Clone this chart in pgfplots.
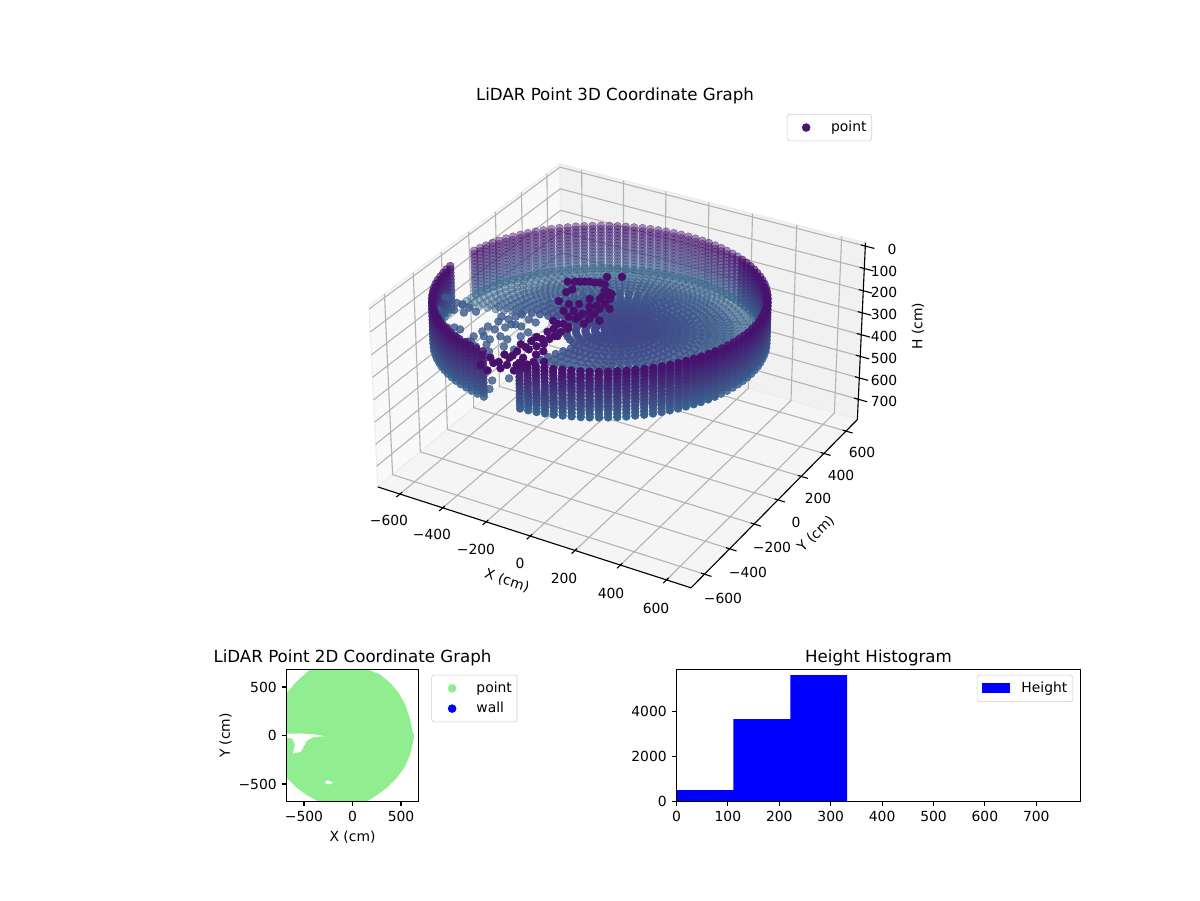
\documentclass[border=0pt]{standalone}
\usepackage{pgfplots}
\usepackage{pgfplotstable}
\usepackage{fontspec}
\setmainfont{DejaVu Sans}
\pgfplotsset{compat=1.18}
\definecolor{topc}{HTML}{47146F}
\definecolor{botc}{HTML}{39638E}
\definecolor{fout}{HTML}{3A6A8C}
\definecolor{fin}{HTML}{41438A}
\definecolor{darkp}{HTML}{490F6C}
\definecolor{midb}{HTML}{3B5A8C}
\definecolor{lgreen}{HTML}{90EE90}
\definecolor{gridc}{HTML}{B4B4B4}
\definecolor{legc}{HTML}{CCCCCC}
% perspective of the 3D panel: data in cm -> picture position
\newcommand\PX[3]{622+3000*(0.000731*(#1)+0.000422*(#2))/(10-(0.000365*(#1)-0.000633*(#2)+0.000425*(390.5-(#3))))}
\newcommand\PY[3]{535.4+3000*(-0.000211*(#1)+0.000365*(#2)+0.000736*(390.5-(#3)))/(10-(0.000365*(#1)-0.000633*(#2)+0.000425*(390.5-(#3))))}
\pgfplotsset{
 /pgfplots/table/pj/.style={x expr={\PX{\thisrow{x}}{\thisrow{y}}{\thisrow{z}}},y expr={\PY{\thisrow{x}}{\thisrow{y}}{\thisrow{z}}}},
 pts/.style={only marks,mark=*,mark size=2.8pt,forget plot},
 secA/.style={skip coords between index={0}{21},skip coords between index={58}{120}},
 secB/.style={skip coords between index={0}{9},skip coords between index={21}{62},skip coords between index={72}{120}},
 secC/.style={skip coords between index={9}{72},skip coords between index={87}{115}},
 secD/.style={skip coords between index={0}{91},skip coords between index={115}{120}},
 secF/.style={skip coords between index={62}{84}},
 secG/.style={skip coords between index={62}{92}},
 secN/.style={},
 grid3/.style={draw=gridc,line width=0.8pt,no marks,forget plot},
 ax3/.style={draw=black,line width=0.8pt,no marks,forget plot},
}
\pgfplotstableread{
x y t
570 0 84
569 35 86
566 70 88
562 105 90
555 139 92
547 173 94
537 207 97
526 240 99
512 273 101
497 304 103
480 335 106
462 365 108
442 394 110
421 422 112
398 448 114
374 474 117
348 498 119
322 521 121
294 542 123
265 562 125
235 580 127
204 597 129
173 612 131
140 625 133
107 637 134
73 647 136
39 655 137
5 662 139
-30 666 140
-65 669 142
-100 670 143
-135 669 144
-170 666 145
-205 662 146
-239 655 146
-273 647 147
-307 637 148
-340 625 148
-373 612 148
-404 597 148
-435 580 148
-465 562 148
-494 542 148
-522 521 148
-548 498 148
-574 474 147
-598 448 146
-621 422 146
-642 394 145
-662 365 144
-680 335 143
-697 304 142
-712 273 140
-726 240 139
-737 207 137
-747 173 136
-755 139 134
-762 105 133
-766 70 131
-769 35 129
-770 0 127
-769 -35 125
-766 -70 123
-762 -105 121
-755 -139 119
-747 -173 117
-737 -207 114
-726 -240 112
-712 -273 110
-697 -304 108
-680 -335 106
-662 -365 103
-642 -394 101
-621 -422 99
-598 -448 97
-574 -474 94
-548 -498 92
-522 -521 90
-494 -542 88
-465 -562 86
-435 -580 84
-404 -597 82
-373 -612 80
-340 -625 78
-307 -637 77
-273 -647 75
-239 -655 74
-205 -662 72
-170 -666 71
-135 -669 69
-100 -670 68
-65 -669 67
-30 -666 66
5 -662 65
39 -655 65
73 -647 64
107 -637 63
140 -625 63
173 -612 63
204 -597 63
235 -580 63
265 -562 63
294 -542 63
322 -521 63
348 -498 63
374 -474 64
398 -448 65
421 -422 65
442 -394 66
462 -365 67
480 -335 68
497 -304 69
512 -273 71
526 -240 72
537 -207 74
547 -173 75
555 -139 77
562 -105 78
566 -70 80
569 -35 82
}\ringtable
\pgfplotstableread{
x y z
-615 -238 170
-587 -239 170
-548 -290 170
-551 -246 170
-511 -260 170
-594 -290 170
-680 -221 170
-659 -217 170
-645 -320 170
-576 -416 170
-540 -423 170
-516 -409 170
-488 -411 170
-503 -465 170
-467 -471 170
-430 -496 170
-531 -463 170
-403 -243 170
-367 -249 170
-355 -216 170
-343 -190 170
-299 -210 170
-263 -217 170
-323 -270 170
-295 -272 170
-345 -310 170
-393 -283 170
-407 -337 170
-372 -344 170
-405 -381 170
-413 -431 170
-400 -470 170
-363 -494 170
-379 -411 170
-346 -420 170
-324 -379 170
-288 -386 170
-270 -440 170
-224 -441 170
-256 -340 170
-247 -299 170
-204 -319 170
-410 -476 170
-336 -460 170
-298 -502 170
-337 -277 170
-234 -663 230
-202 -654 230
-227 -595 230
-180 -549 230
}\bluetable
\pgfplotstableread{
x y z
-100 -687 80
-69 -670 80
-48 -658 80
-91 -546 80
-78 -511 80
-63 -483 80
-60 -410 80
-56 -370 80
-52 -322 80
-59 -253 80
-58 -207 80
-42 -179 80
-43 -124 80
-61 -45 80
-60 -7 80
-126 46 80
-164 33 80
-199 13 80
-183 -672 80
-108 -720 80
-152 -700 80
-119 -617 80
-26 -618 80
-188 -164 80
-200 -88 80
-192 -56 80
-36 -531 80
-126 100 80
-75 130 80
-240 -11 80
-216 3 80
-182 23 80
-143 36 80
-101 41 80
-74 -7 80
-25 -51 80
-59 -70 80
-93 -90 80
-108 -145 80
-62 -145 80
-20 -139 80
14 -120 80
-91 -254 80
-57 -234 80
-14 -227 80
28 -221 80
-97 -322 80
-44 -336 80
-100 -395 80
-50 -404 80
-89 -453 80
-109 -538 80
-138 -527 80
-121 -637 80
-76 -611 80
-139 -683 80
-65 -439 80
-92 -363 80
-80 -312 80
-98 -203 80
-12 -272 80
-17 -183 80
-38 -13 80
-22 -96 80
-142 -165 80
-132 -223 80
-126 -310 80
-114 -450 80
-116 -487 80
-121 -581 80
-150 -625 80
-47 -566 80
8 -598 80
-30 -675 80
-56 -709 80
-141 -758 80
-185 -737 80
}\darktable
\newcommand\wall[2]{%
 \pgfplotsinvokeforeach{100,92,...,0}{%
  \addplot[pts,#2,color=botc!##1!topc,fill opacity=#1,draw opacity=#1] table[
   x expr={\PX{\thisrow{x}*0.98-2}{\thisrow{y}*0.98}{\thisrow{t}*0.79+31.2+##1*1.9}},
   y expr={\PY{\thisrow{x}*0.98-2}{\thisrow{y}*0.98}{\thisrow{t}*0.79+31.2+##1*1.9}}]{\ringtable};
 }}
\newcommand\floorring[4]{%
 \pgfplotsinvokeforeach{#1}{%
  \addplot[pts,#4,each nth point=#2,color=fout!##1!fin,fill opacity=#3,draw opacity=#3] table[
   x expr={\PX{\thisrow{x}*##1/100}{\thisrow{y}*##1/100}{282.3+(\thisrow{t}-102.3)*##1/100-50*(1-##1/100)}},
   y expr={\PY{\thisrow{x}*##1/100}{\thisrow{y}*##1/100}{282.3+(\thisrow{t}-102.3)*##1/100-50*(1-##1/100)}}]{\ringtable};
 }}
\begin{document}
\begin{tikzpicture}
\path[use as bounding box] (0,0) rectangle (864pt,648pt);
\begin{axis}[at={(0,0)},anchor=south west,scale only axis,width=864pt,height=648pt,
 xmin=0,xmax=1200,ymin=0,ymax=900,hide axis,clip=false,
 legend style={at={(axis cs:872,786)},anchor=north east,draw=legc,rounded corners=2pt,font=\fontsize{10}{12}\selectfont,inner xsep=1.7pt,inner ysep=3pt},
 legend cell align=left]
% panes
\addplot[fill=black!2.5,draw=black!7,line width=0.8pt,forget plot] table[pj,row sep=crcr]{x y z\\ -705 -705 796\\ -705 705 796\\ -705 705 -15\\ -705 -705 -15\\ -705 -705 796\\};
\addplot[fill=black!5.5,draw=black!7,line width=0.8pt,forget plot] table[pj,row sep=crcr]{x y z\\ -705 705 796\\ 705 705 796\\ 705 705 -15\\ -705 705 -15\\ -705 705 796\\};
\addplot[fill=black!4,draw=black!7,line width=0.8pt,forget plot] table[pj,row sep=crcr]{x y z\\ -705 -705 796\\ 705 -705 796\\ 705 705 796\\ -705 705 796\\ -705 -705 796\\};
% grid
\pgfplotsinvokeforeach{-600,-400,...,600}{
 \addplot[grid3] table[pj,row sep=crcr]{x y z\\ #1 -705 796\\ #1 705 796\\ #1 705 -15\\};
 \addplot[grid3] table[pj,row sep=crcr]{x y z\\ 705 #1 796\\ -705 #1 796\\ -705 #1 -15\\};
 \addplot[ax3] table[pj,row sep=crcr]{x y z\\ #1 -690 796\\ #1 -730 796\\};
 \addplot[ax3] table[pj,row sep=crcr]{x y z\\ 690 #1 796\\ 735 #1 796\\};
}
\pgfplotsinvokeforeach{0,100,...,700}{
 \addplot[grid3] table[pj,row sep=crcr]{x y z\\ 705 705 #1\\ -705 705 #1\\ -705 -705 #1\\};
 \addplot[ax3] table[pj,row sep=crcr]{x y z\\ 685 705 #1\\ 745 705 #1\\};
}
% axis lines
\addplot[ax3] table[pj,row sep=crcr]{x y z\\ -705 -705 796\\ 705 -705 796\\ 705 705 796\\ 705 705 -15\\};
% points
\wall{0.45}{secA}
\floorring{94,89,84,79}{1}{0.45}{secG}
\floorring{74,69,64,59}{1}{0.55}{secG}
\floorring{54,49,44,39,34}{2}{0.85}{secF}
\floorring{29,24,19,14,9,4}{3}{0.9}{secN}
\wall{0.65}{secB}
\addplot[pts,color=midb,fill opacity=0.8,draw opacity=0.8] table[pj]{\bluetable};
\wall{0.85}{secC}
\addplot[pts,color=darkp] table[pj]{\darktable};
\wall{1}{secD}
% text
\node[font=\fontsize{12}{14}\selectfont] at (axis cs:615,804) {LiDAR Point 3D Coordinate Graph};
\node at (axis cs:389,380) {−600};
\node at (axis cs:432,366) {−400};
\node at (axis cs:476,351) {−200};
\node at (axis cs:520,337) {0};
\node at (axis cs:564,322) {200};
\node at (axis cs:611,307) {400};
\node at (axis cs:656,292) {600};
\node at (axis cs:723,302) {−600};
\node at (axis cs:748,328) {−400};
\node at (axis cs:772,353) {−200};
\node at (axis cs:796,378) {0};
\node at (axis cs:818,402) {200};
\node at (axis cs:841,425) {400};
\node at (axis cs:862,448) {600};
\node at (axis cs:892,651) {0};
\node at (axis cs:884,629) {100};
\node at (axis cs:884,608) {200};
\node at (axis cs:884,586) {300};
\node at (axis cs:884,564) {400};
\node at (axis cs:884,542) {500};
\node at (axis cs:884,520) {600};
\node at (axis cs:884,499) {700};
\node[rotate=-18.3] at (axis cs:507,319) {X (cm)};
\node[rotate=44] at (axis cs:816,366) {Y (cm)};
\node[rotate=90] at (axis cs:918,574) {H (cm)};
\addlegendimage{legend image code/.code={\path[draw=none,fill=none] (0pt,0pt) -- (28pt,0pt); \fill[topc,draw=none] (12pt,0pt) circle (3.1pt);}}
\addlegendentry{point}
\end{axis}
% 2D panel
\begin{axis}[at={(206.28pt,70.92pt)},anchor=south west,scale only axis,width=95.04pt,height=95.04pt,
 xmin=-680,xmax=680,ymin=-680,ymax=680,axis line style={line width=0.8pt},
 tick align=outside,tick pos=lower,major tick length=3.5pt,every tick/.style={black,line width=0.8pt},
 xtick={-500,0,500},ytick={-500,0,500},xticklabels={−500,0,500},yticklabels={−500,0,500},
 title={LiDAR Point 2D Coordinate Graph},title style={font=\fontsize{12}{14}\selectfont,yshift=-7pt},
 xlabel={X (cm)},ylabel={Y (cm)},ylabel shift=-2pt,
 legend style={at={(1.098,0.96)},anchor=north west,draw=legc,rounded corners=2pt,inner xsep=1.7pt,inner ysep=3pt,row sep=1.5pt},
 legend cell align=left,axis on top]
\addplot[fill=lgreen,draw=none,forget plot] coordinates {(-436,680)(155,680)(285,628)(388,543)(474,440)(543,319)(594,165)(622,27)(635,0)(622,-76)(594,-196)(543,-316)(457,-436)(354,-539)(251,-615)(148,-680)(-350,-680)(-470,-615)(-573,-539)(-680,-436)(-680,436)(-573,560)(-436,680)};
\addplot[fill=white,draw=none,forget plot] coordinates {(-680,17)(-540,21)(-385,10)(-282,-7)(-402,-17)(-470,-52)(-532,-168)(-615,-185)(-591,-93)(-625,-31)(-680,-24)(-680,17)};
\addplot[fill=white,draw=none,forget plot] coordinates {(-288,-481)(-254,-460)(-196,-488)(-254,-505)(-288,-481)};
\addlegendimage{legend image code/.code={\path[draw=none,fill=none] (0pt,0pt) -- (28.5pt,0pt); \fill[lgreen,draw=none] (13pt,0pt) circle (3.1pt);}}
\addlegendentry{point}
\addlegendimage{legend image code/.code={\path[draw=none,fill=none] (0pt,0pt) -- (28.5pt,0pt); \fill[blue,draw=none] (13pt,0pt) circle (3.1pt);}}
\addlegendentry{wall}
\end{axis}
% histogram
\begin{axis}[at={(487.08pt,70.92pt)},anchor=south west,scale only axis,width=290.88pt,height=95.04pt,
 xmin=0,xmax=786,ymin=0,ymax=5867,axis line style={line width=0.8pt},
 tick align=outside,tick pos=lower,major tick length=3.5pt,every tick/.style={black,line width=0.8pt},
 xtick={0,100,...,700},ytick={0,2000,4000},
 /pgf/number format/assume math mode=true,/pgf/number format/set thousands separator={},
 title={Height Histogram},title style={font=\fontsize{12}{14}\selectfont,yshift=-7pt},
 legend style={at={(0.982,0.96)},anchor=north east,draw=legc,rounded corners=2pt,inner xsep=2pt,inner ysep=3pt},
 legend image code/.code={\fill[blue,draw=none,sharp corners] (1.5pt,-3.6pt) rectangle (21.5pt,3.6pt); \path[draw=none,fill=none] (0pt,0pt) -- (28pt,0pt);},
 legend cell align=left,axis on top]
\addplot[ybar interval,fill=blue,draw=none] coordinates {(0,504)(110.7,3660)(221.4,5615)(332.1,0)(442.8,0)(553.5,0)(664.2,0)(774.9,0)};
\addlegendentry{Height}
\end{axis}
\end{tikzpicture}
\end{document}
